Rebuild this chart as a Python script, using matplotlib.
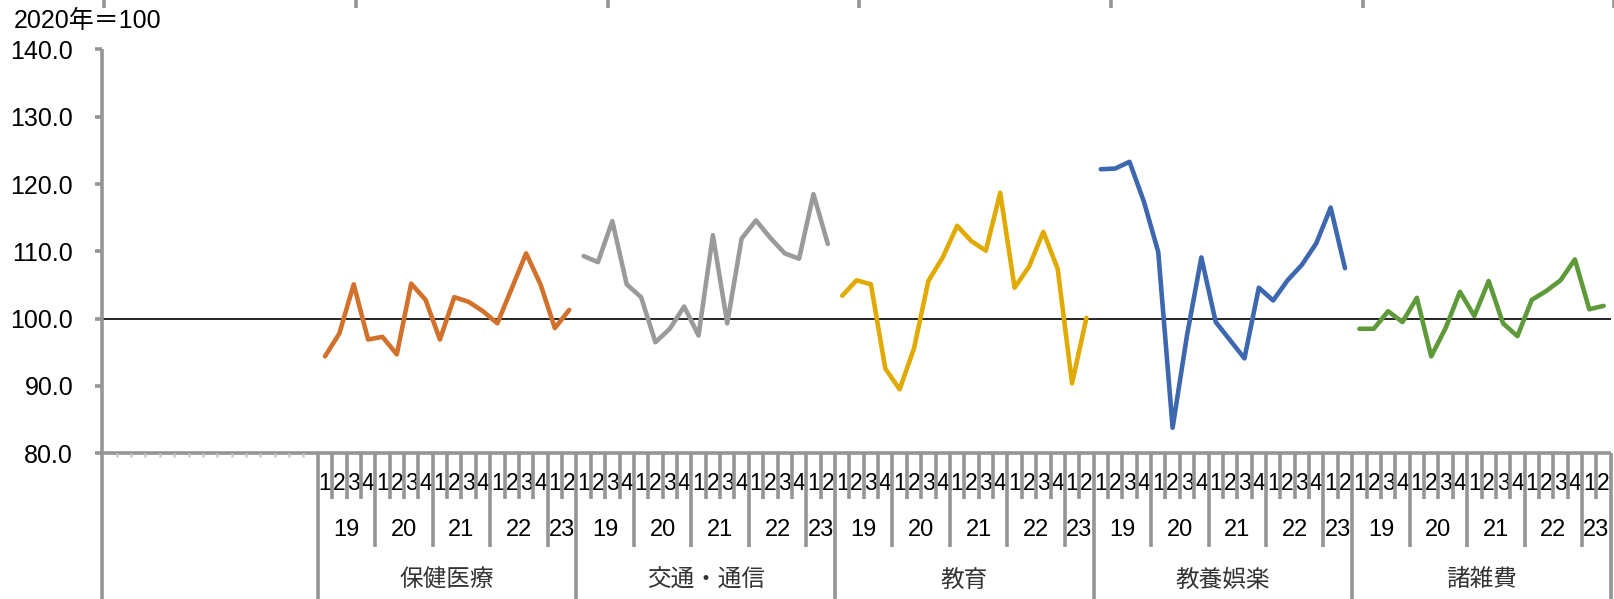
import numpy as np
import matplotlib.pyplot as plt
from matplotlib.lines import Line2D
from matplotlib.transforms import blended_transform_factory

# quarterly index by expense group, 2019Q1 - 2023Q2 (2020 = 100)
groups = ['保健医療', '交通・通信', '教育', '教養娯楽', '諸雑費']
quarters = ['1', '2', '3', '4'] * 4 + ['1', '2']
years = ['19', '20', '21', '22', '23']
year_spans = [4, 4, 4, 4, 2]

health = [94.4, 97.8, 105.1, 96.9, 97.3, 94.7, 105.2, 102.8, 96.9,
          103.2, 102.5, 101.1, 99.3, 104.5, 109.7, 105.1, 98.6, 101.3]
transport = [109.3, 108.4, 114.5, 105.1, 103.2, 96.5, 98.5, 101.8, 97.5,
             112.4, 99.3, 111.9, 114.6, 112.0, 109.7, 108.9, 118.5, 111.1]
education = [103.4, 105.7, 105.1, 92.6, 89.5, 95.6, 105.6, 109.1, 113.8,
             111.5, 110.1, 118.7, 104.6, 107.7, 112.9, 107.4, 90.4, 100.1]
culture = [122.2, 122.3, 123.3, 117.4, 109.9, 83.8, 97.5, 109.1, 99.5,
           96.8, 94.1, 104.6, 102.7, 105.7, 108.0, 111.2, 116.5, 107.5]
misc = [98.5, 98.5, 101.1, 99.5, 103.1, 94.4, 98.6, 104.0, 100.4,
        105.6, 99.3, 97.4, 102.8, 104.1, 105.7, 108.8, 101.4, 101.9]

series = [health, transport, education, culture, misc]
colors = ['#D2712C', '#9A9A9A', '#E0AA00', '#3D68B0', '#5E9A3A']

GRAY = '#959595'
NUM_FONT = ['Liberation Sans', 'Noto Sans CJK JP']
JP_FONT = ['Noto Sans CJK JP', 'DejaVu Sans']

n_blank = 15          # empty slots left of the first group
n_q = len(quarters)
n_cat = n_blank + n_q * len(groups)

W, H = 1614, 599
fig = plt.figure(figsize=(W / 100, H / 100), dpi=100)
ax_left, ax_right, ax_top, ax_bot = 102.3, 1610.8, 49.4, 453.3
ax = fig.add_axes([ax_left / W, (H - ax_bot) / H,
                   (ax_right - ax_left) / W, (ax_bot - ax_top) / H])
ax.set_xlim(-0.5, n_cat - 0.5)
ax.set_ylim(80, 140)

ax.axhline(100, color='black', lw=1.2, zorder=2)
for g, (vals, c) in enumerate(zip(series, colors)):
    x = np.arange(n_q) + n_blank + n_q * g
    ax.plot(x, vals, color=c, lw=3.3, solid_joinstyle='round',
            solid_capstyle='round', zorder=3)

for s in ax.spines.values():
    s.set_visible(False)
yt = np.arange(80, 141, 10)
ax.set_yticks(yt)
ax.set_yticklabels([f'{v:.1f}' for v in yt], fontsize=18, family=NUM_FONT)
ax.tick_params(axis='y', length=5, width=2.6, color=GRAY, pad=16)
ax.tick_params(axis='x', bottom=False, labelbottom=False)

tr = blended_transform_factory(ax.transData, fig.transFigure)


def fy(px):
    return 1 - px / H


def vline(x, y0, y1, color=GRAY, lw=2.6):
    ax.plot([x, x], [fy(y0), fy(y1)], transform=tr, color=color, lw=lw,
            clip_on=False, solid_capstyle='butt', zorder=4)


# axis lines
vline(-0.5, ax_top, H)
ax.plot([-0.5, n_cat - 0.5], [fy(ax_bot)] * 2, transform=tr, color=GRAY,
        lw=2.6, clip_on=False, solid_capstyle='butt', zorder=4)

# tiny ticks in the blank section
for k in range(1, n_blank):
    vline(k - 0.5, ax_bot, ax_bot + 3.5, color='#c8c8c8', lw=1.8)

# multi-level category ticks
q_y, yr_y, grp_y = 499, 546.7, H
for g in range(len(groups)):
    start = n_blank + n_q * g - 0.5
    vline(start, ax_bot, grp_y)
    for i in range(1, n_q):
        vline(start + i, ax_bot, yr_y if i % 4 == 0 else q_y)
vline(n_cat - 0.5, ax_bot, grp_y)

# category labels
for g, name in enumerate(groups):
    base = n_blank + n_q * g
    for i, q in enumerate(quarters):
        ax.text(base + i, fy(483.3), q, transform=tr, ha='center',
                va='center', fontsize=16.5, family=NUM_FONT)
    pos = 0
    for yr, span in zip(years, year_spans):
        ax.text(base + pos + (span - 1) / 2, fy(530), yr, transform=tr,
                ha='center', va='center', fontsize=17, family=NUM_FONT)
        pos += span
    ax.text(base + (n_q - 1) / 2, fy(580), name, transform=tr,
            ha='center', va='center', fontsize=17, family=JP_FONT,
            color='#333333')

fig.text(14 / W, fy(21), '2020年＝100', ha='left', va='center',
         fontsize=18, family=NUM_FONT)

# stub ticks along the top edge
for n in range(7):
    xp = (104.3 + n * 251.7) / W
    fig.add_artist(Line2D([xp, xp], [1, fy(8)], transform=fig.transFigure,
                          color=GRAY, lw=2.6, solid_capstyle='butt'))

fig.savefig('out.png', dpi=100, facecolor='white')
